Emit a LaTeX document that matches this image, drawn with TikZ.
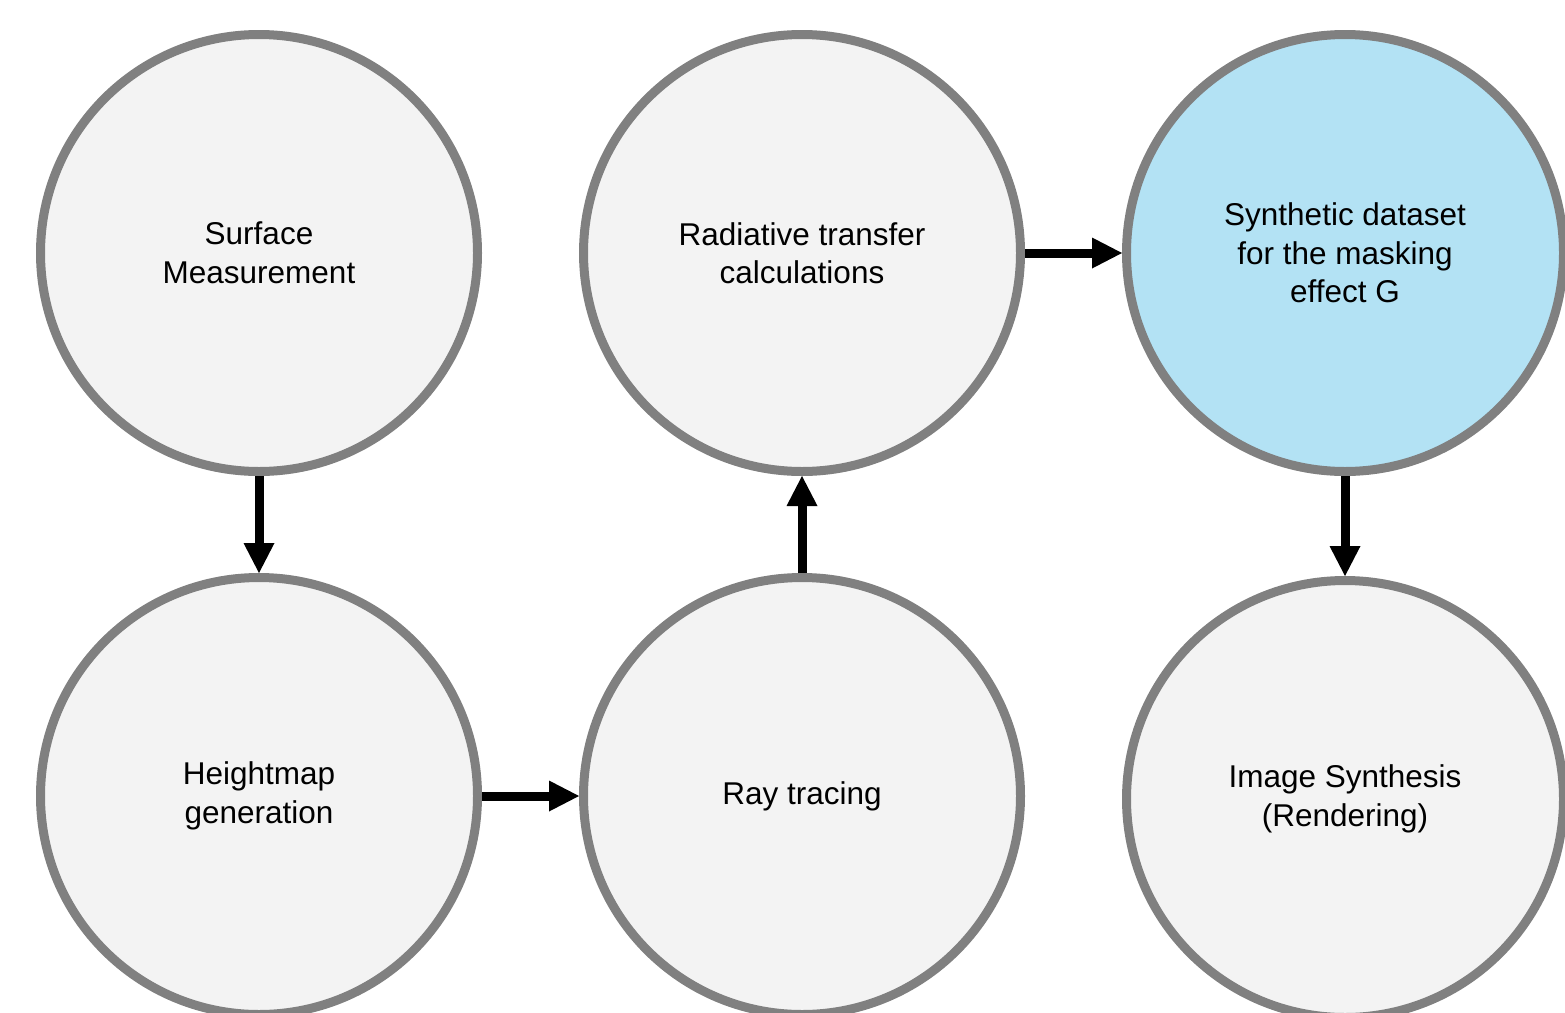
\documentclass[tikz,border=0pt]{standalone}
\usepackage{fontspec}
\setmainfont{Liberation Sans}
\usetikzlibrary{positioning,arrows.meta}

\definecolor{stagefill}{HTML}{F3F3F3}
\definecolor{stagegray}{HTML}{808080}
\definecolor{synthblue}{HTML}{B3E2F4}

\tikzset{
    stage/.style={circle, draw=stagegray, fill=stagefill, line width=9pt,
        minimum size=437pt, inner sep=0pt, align=center,
        font=\fontsize{31.5pt}{38.5pt}\selectfont},
    flow/.style={line width=9pt, -{Triangle[length=30pt, width=31pt, line width=0pt]}}
}

\begin{document}
\begin{tikzpicture}[node distance=97pt]
    \useasboundingbox (0,0) rectangle (1565pt,-1012pt);

    \node[stage] (surface) at (259pt,-253pt) {Surface\\Measurement};
    \node[stage, right = of surface] (radiative) {Radiative transfer\\calculations};
    \node[stage, fill=synthblue, right = of radiative] (dataset) {Synthetic dataset\\for the masking\\effect G};
    \node[stage, below = of surface] (heightmap) {Heightmap\\generation};
    \node[stage, below = of radiative] (raytrace) {Ray tracing};
    \node[stage, below = 100pt of dataset] (synthesis) {Image Synthesis\\(Rendering)};

    \draw[flow] (surface) -- (heightmap);
    \draw[flow] (heightmap) -- (raytrace);
    \draw[flow] (raytrace) -- (radiative);
    \draw[flow] (radiative) -- (dataset);
    \draw[flow] (dataset) -- (synthesis);
\end{tikzpicture}
\end{document}
